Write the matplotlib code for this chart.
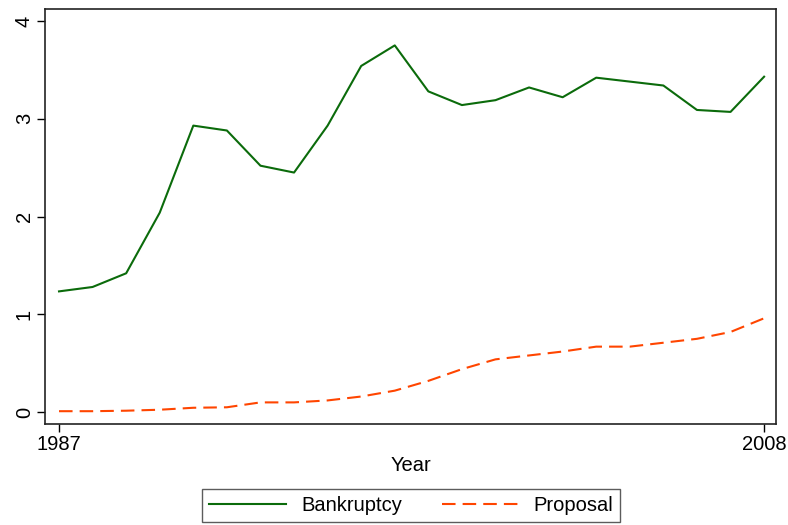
import matplotlib
matplotlib.use("Agg")
from matplotlib import pyplot as plt

plt.rcParams['font.family'] = ['Liberation Sans', 'DejaVu Sans']

# Datos
years = list(range(1987, 2009))
bankruptcy = [1.235, 1.28, 1.42, 2.04, 2.93, 2.88, 2.52, 2.45, 2.93, 3.54, 3.75,
              3.28, 3.14, 3.19, 3.32, 3.22, 3.42, 3.38, 3.34, 3.09, 3.07, 3.43]
proposal = [0.01, 0.01, 0.015, 0.025, 0.045, 0.05, 0.10, 0.10, 0.12, 0.16, 0.22,
            0.32, 0.44, 0.54, 0.58, 0.62, 0.67, 0.67, 0.71, 0.75, 0.82, 0.96]
xticks = [1987, 2008]
yticks = [0, 1, 2, 3, 4]

fig = plt.figure(figsize=(7.88, 5.25), dpi=100)
ax = fig.add_axes([0.057, 0.192, 0.928, 0.791])

ax.plot(years, bankruptcy, color='#0b6b0b', lw=1.5, label='Bankruptcy')
ax.plot(years, proposal, color='#ff4500', lw=1.5, dashes=(6.5, 3.4), label='Proposal')

ax.set_xlim(1986.58, 2008.36)
ax.set_ylim(-0.123, 4.123)
ax.set_xticks(xticks)
ax.set_yticks(yticks)
ax.set_yticklabels([str(t) for t in yticks], rotation=90, va='center')
ax.tick_params(direction='out', length=6, width=1, labelsize=14.5, pad=2)
ax.set_xlabel('Year', fontsize=14.5, labelpad=1)
for s in ax.spines.values():
    s.set_linewidth(1.2)
    s.set_color('#222222')

leg = fig.legend(loc='center', bbox_to_anchor=(0.522, 0.0375), ncol=2,
                 fontsize=14.5, frameon=True, fancybox=False, handlelength=3.8,
                 columnspacing=2.0, borderpad=0.35, handletextpad=0.75)
leg.get_frame().set_edgecolor('#333333')
leg.get_frame().set_linewidth(1.0)

fig.savefig('out.png', dpi=100)
